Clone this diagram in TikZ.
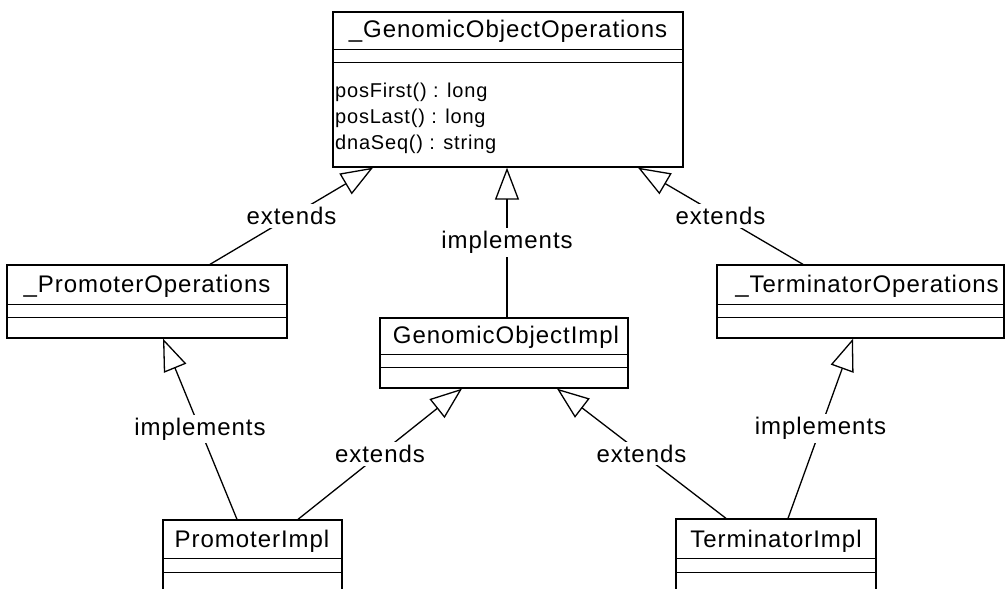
\documentclass[tikz,border=0pt]{standalone}
\usepackage{fontspec}
\setmainfont{Liberation Sans}[LetterSpace=4]
\usetikzlibrary{arrows.meta}
\begin{document}
\begin{tikzpicture}[x=1pt,y=-1pt,
  cls/.style={draw, line width=1.3pt, inner sep=0pt, fill=white},
  sep/.style={line width=1.3pt},
  lbl/.style={fill=white, inner sep=3pt, font=\fontsize{24}{28}\selectfont},
  nm/.style={font=\fontsize{24}{28}\selectfont, inner sep=0pt},
  meth/.style={font=\fontsize{20}{26}\selectfont, inner sep=0pt, align=left, anchor=west},
  inh/.style={line width=1.3pt, -{Triangle[open, length=32pt, width=24pt, line width=1.3pt]}},
]
\clip (0,0) rectangle (1007,589);
\fill[white] (0,0) rectangle (1007,589);

% classes
\node[cls, minimum width=350pt, minimum height=155pt] (top) at (508,89.5) {};
\draw[sep] ([yshift=-38pt]top.north west) -- ([yshift=-38pt]top.north east);
\draw[sep] ([yshift=-51pt]top.north west) -- ([yshift=-51pt]top.north east);
\node[nm] (topn) at (508,31) {\_GenomicObjectOperations};
\node[meth] (topm) at (335,118) {posFirst() : long\\posLast() : long\\dnaSeq() : string};

\node[cls, minimum width=280pt, minimum height=73pt] (pop) at (147,301.5) {};
\draw[sep] ([yshift=-40pt]pop.north west) -- ([yshift=-40pt]pop.north east);
\draw[sep] ([yshift=-53pt]pop.north west) -- ([yshift=-53pt]pop.north east);
\node[nm] (popn) at (147,286) {\_PromoterOperations};

\node[cls, minimum width=287pt, minimum height=73pt] (teo) at (860.5,301.5) {};
\draw[sep] ([yshift=-40pt]teo.north west) -- ([yshift=-40pt]teo.north east);
\draw[sep] ([yshift=-53pt]teo.north west) -- ([yshift=-53pt]teo.north east);
\node[nm] (teon) at (867,286) {\_TerminatorOperations};

\node[cls, minimum width=248pt, minimum height=70pt] (goi) at (504,353) {};
\draw[sep] ([yshift=-37pt]goi.north west) -- ([yshift=-37pt]goi.north east);
\draw[sep] ([yshift=-50pt]goi.north west) -- ([yshift=-50pt]goi.north east);
\node[nm] (goin) at (506,337) {GenomicObjectImpl};

\node[cls, minimum width=179pt, minimum height=80pt] (pim) at (252.5,560) {};
\draw[sep] ([yshift=-39pt]pim.north west) -- ([yshift=-39pt]pim.north east);
\draw[sep] ([yshift=-53pt]pim.north west) -- ([yshift=-53pt]pim.north east);
\node[nm] (pimn) at (252,541) {PromoterImpl};

\node[cls, minimum width=200pt, minimum height=82pt] (tim) at (776,560) {};
\draw[sep] ([yshift=-40pt]tim.north west) -- ([yshift=-40pt]tim.north east);
\draw[sep] ([yshift=-54pt]tim.north west) -- ([yshift=-54pt]tim.north east);
\node[nm] (timn) at (776,541) {TerminatorImpl};

% connectors
\draw[inh] ([xshift=63pt]pop.north) -- node[lbl]{extends} ([xshift=-135pt]top.south);
\draw[inh] ([xshift=-57.5pt]teo.north) -- node[lbl]{extends} ([xshift=130pt]top.south);
\draw[inh] ([xshift=3pt]goi.north) -- node[lbl]{implements} ([xshift=-1pt]top.south);
\draw[inh] ([xshift=-15.5pt]pim.north) -- node[lbl]{implements} ([xshift=16pt]pop.south);
\draw[inh] ([xshift=45.5pt]pim.north) -- node[lbl]{extends} ([xshift=-42pt]goi.south);
\draw[inh] ([xshift=-50pt]tim.north) -- node[lbl]{extends} ([xshift=53pt]goi.south);
\draw[inh] ([xshift=12pt]tim.north) -- node[lbl]{implements} ([xshift=-7.5pt]teo.south);
\end{tikzpicture}
\end{document}
